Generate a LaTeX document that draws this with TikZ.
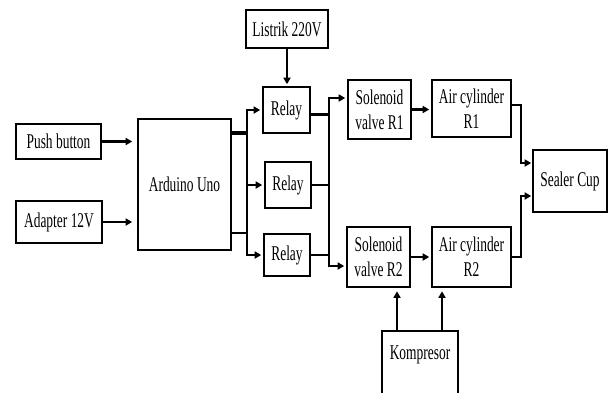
\documentclass[tikz,border=0pt]{standalone}
\usepackage{fontspec}
\setmainfont{Liberation Serif}[FakeStretch=0.64]
\usetikzlibrary{arrows.meta,shadows}
\begin{document}
\begin{tikzpicture}[x=1pt,y=-1pt,
  box/.style={draw, line width=1.6pt, fill=white, inner sep=0pt, align=center,
    font=\fontsize{21}{25}\selectfont,
    drop shadow={shadow xshift=0.5pt, shadow yshift=-1.3pt, opacity=1, fill=black}},
  con/.style={line width=2.2pt},
  arr/.style={con, -{Triangle[length=6.5pt,width=7pt]}, shorten >=2pt}]
\useasboundingbox (0,0) rectangle (611,392);
\clip (0,0) rectangle (611,392);
% boxes
\node[box, minimum width=82pt, minimum height=38pt] (listrik) at (287,29) {Listrik 220V};
\node[box, minimum width=47pt, minimum height=46pt] (relay1) at (286.5,110) {Relay};
\node[box, minimum width=46pt, minimum height=46pt] (relay2) at (288,185) {Relay};
\node[box, minimum width=46pt, minimum height=42pt] (relay3) at (287,255) {Relay};
\node[box, minimum width=85pt, minimum height=35pt] (push) at (58.5,141.5) {Push button};
\node[box, minimum width=86pt, minimum height=42pt] (adapter) at (59,222) {Adapter 12V};
\node[box, minimum width=93pt, minimum height=131pt] (arduino) at (184.5,184.5) {Arduino Uno};
\node[box, minimum width=63pt, minimum height=59pt] (sol1) at (379.5,109.5) {Solenoid\\valve R1};
\node[box, minimum width=79pt, minimum height=57pt] (air1) at (471.5,108.5) {Air cylinder\\R1};
\node[box, minimum width=74pt, minimum height=62pt] (sealer) at (570,181) {Sealer Cup};
\node[box, minimum width=63pt, minimum height=60pt] (sol2) at (378.5,257) {Solenoid\\valve R2};
\node[box, minimum width=79pt, minimum height=60pt] (air2) at (471.5,257) {Air cylinder\\R2};
\node[box, minimum width=76pt, minimum height=75pt, anchor=north] (komp) at (420,330) {};
\node[font=\fontsize{21}{25}\selectfont, inner sep=0pt] (kompt) at ([yshift=-25pt]komp.north) {Kompresor};
% inputs to Arduino
\draw[arr, shorten >=5pt] (push.east) -- (push.east -| arduino.west);
\draw[arr, shorten >=5pt] (adapter.east) -- (adapter.east -| arduino.west);
% Arduino to relays
\coordinate (b1) at (247,133);
\coordinate (b2) at (247,233);
\draw[line width=3.5pt] (arduino.east |- b1) -- (b1);
\draw[con] (arduino.east |- b2) -- (b2);
\draw[con] (b1) -- (b2);
\draw[arr] (b1) -- (b1 |- relay1.west) -- (relay1.west);
\draw[arr] (b1 |- relay2.west) -- (relay2.west);
\draw[arr] (b2) -- (b2 |- relay3.west) -- (relay3.west);
% Listrik to relay
\draw[arr] (listrik.south) -- (listrik.south |- relay1.north);
% relays to solenoids
\coordinate (s1) at (329,98);
\coordinate (s2) at (329,266);
\coordinate (r1o) at ([yshift=-4.5pt]relay1.east);
\draw[con] (r1o) -- (r1o -| s1);
\draw[con] (relay2.east) -- (relay2.east -| s1);
\draw[con] (relay3.east) -- (relay3.east -| s1);
\draw[arr] (s1 |- relay2.east) -- (s1) -- (s1 -| sol1.west);
\draw[arr] (s1 |- relay2.east) -- (s2) -- (s2 -| sol2.west);
% solenoids to cylinders
\draw[arr] (sol1.east) -- (sol1.east -| air1.west);
\draw[arr] (sol2.east) -- (sol2.east -| air2.west);
% cylinders to sealer
\coordinate (t1) at (521,163);
\coordinate (t2) at (521,196);
\coordinate (a1o) at ([yshift=3.5pt]air1.east);
\draw[arr, shorten >=1pt] (a1o) -- (a1o -| t1) -- (t1) -- (t1 -| sealer.west);
\draw[arr, shorten >=1pt] (air2.east) -- (air2.east -| t2) -- (t2) -- (t2 -| sealer.west);
% kompresor
\coordinate (k1) at (397,330);
\coordinate (k2) at (442,330);
\draw[arr, shorten >=3.5pt] (k1) -- (k1 |- sol2.south);
\draw[arr, shorten >=3.5pt] (k2) -- (k2 |- air2.south);
\end{tikzpicture}
\end{document}
